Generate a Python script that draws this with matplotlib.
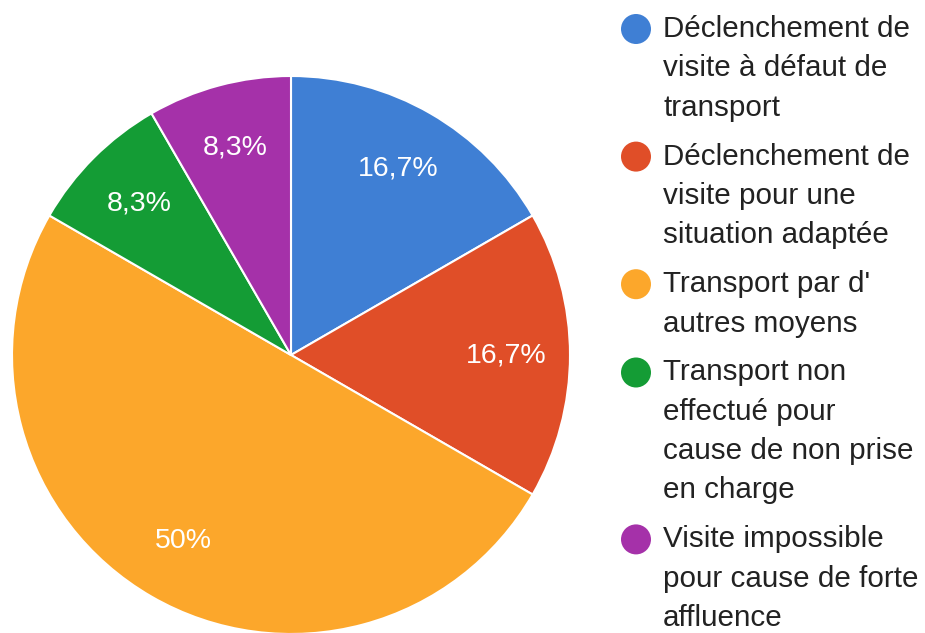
import matplotlib.pyplot as plt
from matplotlib.patches import Ellipse

# donnees
categories = [
    "Déclenchement de\nvisite à défaut de\ntransport",
    "Déclenchement de\nvisite pour une\nsituation adaptée",
    "Transport par d'\nautres moyens",
    "Transport non\neffectué pour\ncause de non prise\nen charge",
    "Visite impossible\npour cause de forte\naffluence",
]
valeurs = [2, 2, 6, 1, 1]
couleurs = ["#3f7fd4", "#e04e28", "#fca72b", "#149c35", "#a531a9"]

plt.rcParams["font.family"] = ["Liberation Sans", "DejaVu Sans"]

fig = plt.figure(figsize=(9.25, 6.33), dpi=100)
W, H = 925, 633

# pie: centre (291, 355) px, rayon 279 px
cx, cy, r = 291, 355, 279
ax = fig.add_axes([(cx - r) / W, (H - cy - r) / H, 2 * r / W, 2 * r / H])


def fmt_pct(p):
    s = "%.1f" % p
    if s.endswith(".0"):
        s = s[:-2]
    return s.replace(".", ",") + "%"


wedges, textes, pcts = ax.pie(
    valeurs,
    colors=couleurs,
    startangle=90,
    counterclock=False,
    autopct=fmt_pct,
    pctdistance=0.77,
    wedgeprops={"edgecolor": "white", "linewidth": 1.5},
    textprops={"color": "white", "fontsize": 20.5},
)
ax.set_xlim(-1, 1)
ax.set_ylim(-1, 1)
ax.axis("off")

# legende manuelle
ligne = 39.3
ecart = 49
y = 29
for cat, col in zip(categories, couleurs):
    lignes = cat.split("\n")
    fig.patches.append(
        Ellipse((636 / W, 1 - y / H), 30 / W, 30 / H, transform=fig.transFigure,
                facecolor=col, edgecolor="none")
    )
    for i, t in enumerate(lignes):
        fig.text(663 / W, 1 - (y + i * ligne) / H, t, fontsize=21.3,
                 color="#222222", ha="left", va="center")
    y += (len(lignes) - 1) * ligne + ecart

fig.savefig("out.png", dpi=100)
